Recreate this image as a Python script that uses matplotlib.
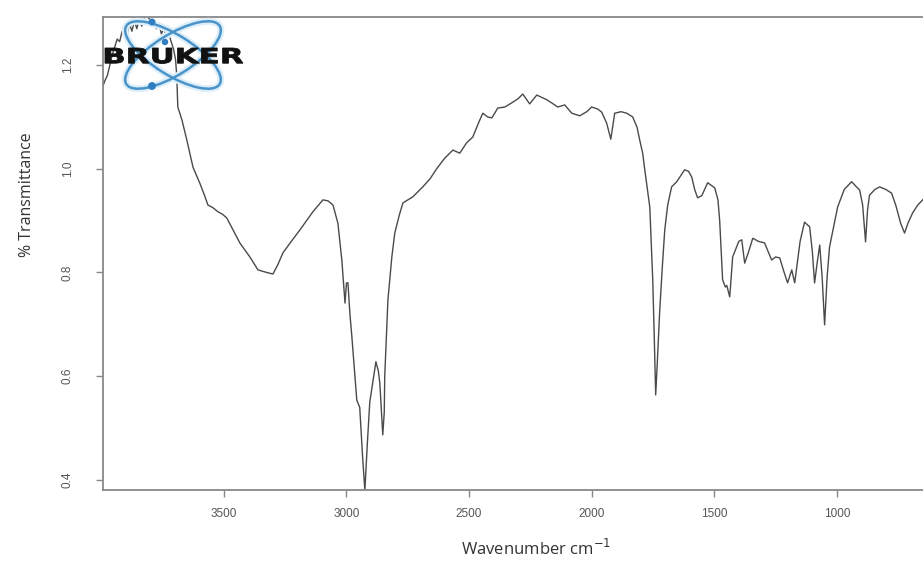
import matplotlib
matplotlib.use("Agg")
import matplotlib.pyplot as plt
from matplotlib.patches import Ellipse, Circle, PathPatch
from matplotlib.textpath import TextPath
from matplotlib.font_manager import FontProperties
from matplotlib.transforms import Affine2D

# ---- data ----
wavenumber = [3993, 3985, 3975, 3965, 3955, 3945, 3935, 3925, 3915, 3905, 3895, 3885, 3875, 3865,
              3855, 3845, 3835, 3825, 3815, 3805, 3795, 3785, 3775, 3765, 3755, 3745, 3735, 3725,
              3715, 3705, 3697, 3692, 3688, 3671, 3651, 3626, 3598, 3580, 3565, 3545, 3524, 3505,
              3488, 3467, 3435, 3394, 3361, 3325, 3300, 3280, 3259, 3225, 3190, 3137, 3096, 3075,
              3055, 3035, 3019, 3006, 3000, 2994, 2986, 2978, 2958, 2946, 2935, 2925, 2915, 2905,
              2880, 2870, 2864, 2856, 2852, 2846, 2844, 2831, 2815, 2803, 2785, 2770, 2729, 2689,
              2660, 2632, 2600, 2566, 2538, 2510, 2485, 2460, 2444, 2425, 2407, 2383, 2354, 2326,
              2300, 2281, 2253, 2224, 2183, 2138, 2110, 2081, 2049, 2020, 2000, 1975, 1959, 1939,
              1922, 1906, 1880, 1857, 1833, 1815, 1804, 1792, 1784, 1770, 1763, 1751, 1745, 1739,
              1733, 1723, 1712, 1702, 1690, 1674, 1653, 1621, 1605, 1592, 1580, 1568, 1551, 1527,
              1498, 1485, 1478, 1466, 1455, 1449, 1437, 1425, 1400, 1388, 1376, 1360, 1343, 1320,
              1295, 1266, 1250, 1233, 1215, 1201, 1184, 1172, 1150, 1132, 1111, 1100, 1091, 1080,
              1070, 1060, 1050, 1040, 1030, 997, 970, 940, 920, 907, 895, 883, 875, 867,
              845, 826, 800, 777, 760, 740, 724, 710, 691, 670, 650, 640]
transmittance = [1.16, 1.17, 1.18, 1.20, 1.22, 1.235, 1.25, 1.245, 1.265, 1.27, 1.255, 1.28, 1.265, 1.285,
                 1.27, 1.29, 1.275, 1.29, 1.28, 1.29, 1.275, 1.285, 1.27, 1.28, 1.26, 1.27, 1.255, 1.26,
                 1.245, 1.23, 1.21, 1.177, 1.119, 1.094, 1.055, 1.003, 0.972, 0.95, 0.93, 0.925, 0.917, 0.912,
                 0.905, 0.886, 0.857, 0.83, 0.805, 0.80, 0.797, 0.815, 0.838, 0.86, 0.882, 0.917, 0.94, 0.938,
                 0.93, 0.895, 0.824, 0.741, 0.78, 0.78, 0.72, 0.676, 0.554, 0.54, 0.45, 0.38, 0.47, 0.55,
                 0.628, 0.61, 0.587, 0.52, 0.487, 0.53, 0.60, 0.747, 0.83, 0.876, 0.91, 0.934, 0.946, 0.965,
                 0.98, 1.0, 1.02, 1.036, 1.03, 1.05, 1.061, 1.09, 1.107, 1.10, 1.098, 1.117, 1.119, 1.127,
                 1.135, 1.144, 1.125, 1.142, 1.133, 1.119, 1.123, 1.107, 1.102, 1.11, 1.119, 1.115, 1.109, 1.088,
                 1.057, 1.107, 1.11, 1.107, 1.10, 1.08, 1.055, 1.03, 1.0, 0.95, 0.926, 0.786, 0.68, 0.564,
                 0.62, 0.722, 0.81, 0.882, 0.93, 0.965, 0.975, 0.998, 0.995, 0.984, 0.96, 0.944, 0.948, 0.973,
                 0.963, 0.94, 0.90, 0.786, 0.772, 0.775, 0.753, 0.83, 0.86, 0.863, 0.818, 0.84, 0.866, 0.86,
                 0.857, 0.824, 0.83, 0.828, 0.80, 0.78, 0.805, 0.78, 0.86, 0.897, 0.888, 0.84, 0.78, 0.82,
                 0.853, 0.79, 0.699, 0.79, 0.849, 0.926, 0.96, 0.975, 0.965, 0.959, 0.93, 0.859, 0.92, 0.949,
                 0.96, 0.965, 0.96, 0.953, 0.93, 0.895, 0.876, 0.895, 0.915, 0.93, 0.94, 0.945]

x_ticks = [3500, 3000, 2500, 2000, 1500, 1000]
y_ticks = [0.4, 0.6, 0.8, 1.0, 1.2]
y_tick_labels = ["0.4", "0.6", "0.8", "1.0", "1.2"]
x_label = "Wavenumber cm$^{-1}$"
y_label = "% Transmittance"
logo_text = "BRUKER"

W, H = 923, 565
fig = plt.figure(figsize=(W / 100, H / 100), dpi=100)
fig.patch.set_facecolor("white")

# main axes (right edge extends beyond the picture, like the cropped original)
left_px, right_px, top_px, bottom_px = 103, 984, 17, 490
ax = fig.add_axes([left_px / W, 1 - bottom_px / H, (right_px - left_px) / W, (bottom_px - top_px) / H])
ax.plot(wavenumber, transmittance, color="#4a4a4a", lw=1.0)
ax.set_xlim(3993, 400)
ax.set_ylim(0.3807, 1.2925)

ax.set_xticks(x_ticks)
ax.set_xticklabels([str(t) for t in x_ticks], fontsize=8.5, color="#555555", family="Liberation Sans")
ax.set_yticks(y_ticks)
ax.set_yticklabels(y_tick_labels, fontsize=8.5, color="#555555", family="Liberation Sans",
                   rotation=90, va="center")
ax.tick_params(axis="x", length=5, width=1.0, color="#888888", pad=8)
ax.tick_params(axis="y", length=5, width=1.0, color="#888888", pad=16)
for s in ax.spines.values():
    s.set_color("#888888")
    s.set_linewidth(1.3)

fig.text(27 / W, 1 - 195 / H, y_label, rotation=90, ha="center", va="center",
         fontsize=11.5, color="#333333", family="Open Sans")
fig.text(536 / W, 1 - 549 / H, x_label, ha="center", va="center",
         fontsize=12, color="#333333", family="Open Sans")

# ---- BRUKER logo ----
lx0, lx1, ly0, ly1 = 100, 250, 8, 100
lax = fig.add_axes([lx0 / W, 1 - ly1 / H, (lx1 - lx0) / W, (ly1 - ly0) / H])
lax.set_xlim(lx0, lx1)
lax.set_ylim(ly1, ly0)
lax.axis("off")
lax.patch.set_alpha(0)
cx, cy = 173, 55
for ang in (32, -32):
    lax.add_patch(Ellipse((cx, cy), 110, 40, angle=ang, fill=False, ec="#dceef9", lw=5, zorder=1))
for ang in (32, -32):
    lax.add_patch(Ellipse((cx, cy), 110, 40, angle=ang, fill=False, ec="#4a93c9", lw=1.8, zorder=2))
for (dx, dy, r) in [(152, 86, 3.2), (152, 22, 2.8), (165, 42, 2.5)]:
    lax.add_patch(Circle((dx, dy), r, color="#2f7fc0", zorder=3))

tp = TextPath((0, 0), logo_text, size=1, prop=FontProperties(family="DejaVu Sans", weight="bold"))
bb = tp.get_extents()
sx = 138 / bb.width
sy = 15.5 / bb.height
tr = Affine2D().translate(-bb.x0, -bb.y0).scale(sx, -sy).translate(105, 63.5) + lax.transData
lax.add_patch(PathPatch(tp, transform=tr, fc="#111111", ec="#111111", lw=0.6, zorder=4))

fig.savefig("out.png", dpi=100)
